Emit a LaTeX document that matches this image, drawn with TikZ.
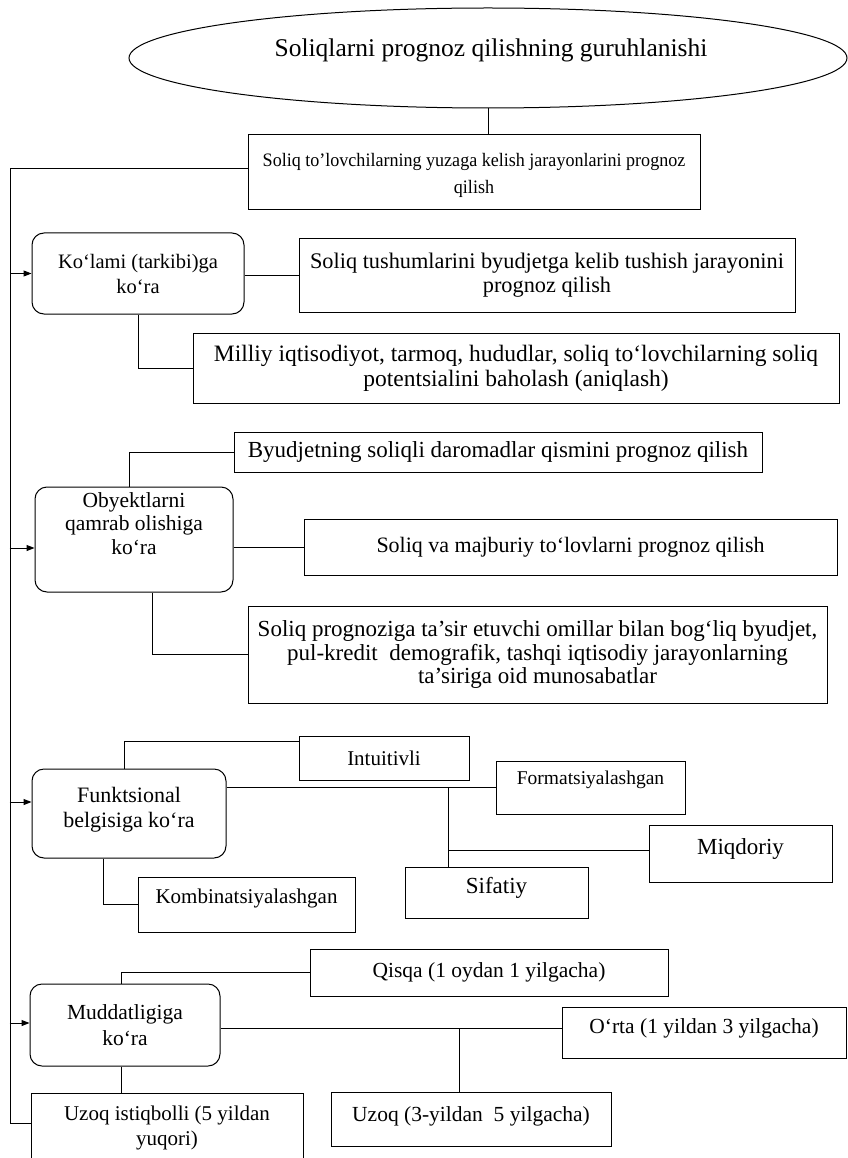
\documentclass[tikz,border=0pt]{standalone}
\usepackage{fontspec}
\setmainfont{Liberation Serif}
\usetikzlibrary{shapes.geometric,arrows.meta,calc}
\newcommand{\fs}[2]{\fontsize{#1}{#2}\selectfont}
\begin{document}
\begin{tikzpicture}[x=1pt,y=-1pt,line width=1pt,
  box/.style={draw,rectangle,align=center,inner sep=2pt,font=\fs{21}{24}},
  cat/.style={box,rounded corners=12pt},
  arr/.style={-{Triangle[length=8pt,width=6pt]}}]
\useasboundingbox[fill=white] (0,0) rectangle (847,1158);

% title
\node[draw,ellipse,minimum width=718pt,minimum height=100pt] (title) at (488,58) {};
\node[font=\fs{25.5}{30}] (titletext) at (491,50) {Soliqlarni prognoz qilishning guruhlanishi};

\node[box,font=\fs{19}{27}\addfontfeature{FakeStretch=0.95},minimum width=452pt,minimum height=75pt,text height=47pt,text depth=4pt] (b1) at (474,172.5)
  {Soliq to’lovchilarning yuzaga kelish jarayonlarini prognoz\\qilish};

% Ko'lami
\node[cat,font=\fs{20.5}{25},minimum width=212pt,minimum height=81pt] (kol) at (138,273.5) {Ko‘lami (tarkibi)ga\\ko‘ra};
\node[box,font=\fs{22.3}{24},minimum width=496pt,minimum height=73pt] (tush) at (547,275.5)
  {Soliq tushumlarini byudjetga kelib tushish jarayonini\\prognoz qilish};
\node[box,font=\fs{23.5}{25},minimum width=646pt,minimum height=70pt] (mil) at (516,368)
  {Milliy iqtisodiyot, tarmoq, hududlar, soliq to‘lovchilarning soliq\\potentsialini baholash (aniqlash)};

% Obyektlarni
\node[box,font=\fs{23}{24},minimum width=528pt,minimum height=40pt] (byud) at (498,452)
  {Byudjetning soliqli daromadlar qismini prognoz qilish};
\node[cat,font=\fs{21.5}{23.5},minimum width=198pt,minimum height=105pt,text depth=32pt] (obj) at (134,539.5) {Obyektlarni\\qamrab olishiga\\ko‘ra};
\node[box,font=\fs{22}{24},minimum width=533pt,minimum height=56pt] (maj) at (570.5,547)
  {Soliq va majburiy to‘lovlarni prognoz qilish};
\node[box,font=\fs{23}{23.5},minimum width=579pt,minimum height=97pt] (omil) at (537.5,654.5)
  {Soliq prognoziga ta’sir etuvchi omillar bilan bog‘liq byudjet,\\pul-kredit\ \ demografik, tashqi iqtisodiy jarayonlarning\\ta’siriga oid munosabatlar};

% Funktsional
\node[cat,font=\fs{22}{25},minimum width=194pt,minimum height=89pt,text depth=12.5pt] (fun) at (129,813.5) {Funktsional\\belgisiga ko‘ra};
\node[box,minimum width=170pt,minimum height=44pt] (int) at (384,758) {Intuitivli};
\node[box,font=\fs{19.5}{22},minimum width=189pt,minimum height=53pt,text depth=20pt] (form) at (590.5,787.5) {Formatsiyalashgan};
\node[box,font=\fs{23}{24},minimum width=183pt,minimum height=57pt,text depth=14pt] (miq) at (740.5,853.5) {Miqdoriy};
\node[box,font=\fs{23}{24},minimum width=183pt,minimum height=51pt,text depth=14pt] (sif) at (496.5,892.5) {Sifatiy};
\node[box,font=\fs{21}{24},minimum width=217pt,minimum height=55pt,text depth=16pt] (komb) at (246.5,904.5) {Kombinatsiyalashgan};

% Muddatligiga
\node[box,font=\fs{21.5}{24},minimum width=358pt,minimum height=47pt] (qis) at (489,972.5) {Qisqa (1 oydan 1 yilgacha)};
\node[cat,font=\fs{21.5}{26},minimum width=190pt,minimum height=82pt] (mud) at (125,1025) {Muddatligiga\\ko‘ra};
\node[box,font=\fs{21.5}{24},minimum width=284pt,minimum height=51pt,text depth=12pt] (orta) at (704,1032.5) {O‘rta (1 yildan 3 yilgacha)};
\node[box,font=\fs{21.5}{24},minimum width=280pt,minimum height=54pt,text depth=9pt] (uzoq) at (471,1119) {Uzoq (3-yildan\ \ 5 yilgacha)};
\node[box,font=\fs{21}{25},minimum width=272pt,minimum height=82pt,text depth=16.5pt] (uzis) at (167,1134) {Uzoq istiqbolli (5 yildan\\yuqori)};

% connectors
\draw (title.south) -- (title.south |- b1.north);
\coordinate (spineTop) at (10,169);
\coordinate (spineBot) at (10,1123);
\draw ([yshift=3.5pt]b1.west) -- (spineTop) -- (spineBot) -- (spineBot -| uzis.west);
\draw[arr] (spineTop |- kol.west) -- (kol.west);
\draw[arr] ([xshift=-25pt,yshift=-8.5pt]obj.west) -- ([yshift=-8.5pt]obj.west);
\draw[arr] ([xshift=-22pt,yshift=11.5pt]fun.west) -- ([yshift=11.5pt]fun.west);
\draw[arr] ([xshift=-20pt,yshift=2pt]mud.west) -- ([yshift=2pt]mud.west);

\draw (kol.east |- tush.west) -- (tush.west);
\draw ([xshift=107pt]kol.south west) |- (mil.west);

\draw ([xshift=95pt]obj.north west) |- (byud.west);
\draw (maj.west -| obj.east) -- (maj.west);
\draw ([xshift=118pt]obj.south west) |- (omil.west);

\draw ([xshift=93pt]fun.north west) |- ([yshift=17pt]int.west);
\draw (fun.east |- form.west) -- (form.west);
\coordinate (fj) at ($(sif.north)+(-48.5,0)$);
\draw (fj) -- (fj |- form.west);
\draw ([yshift=3.5pt]miq.west) -- ++(-201,0);
\draw ([xshift=72pt]fun.south west) |- (komb.west);

\draw ([xshift=92pt]mud.north west) |- (qis.west);
\draw ([yshift=4.5pt]orta.west) -- ([yshift=4.5pt]orta.west -| mud.east);
\coordinate (mj) at ($(uzoq.north)+(-12,0)$);
\draw (mj) -- ++(0,-64);
\draw ([xshift=92pt]mud.south west) -- ++(0,27);
\end{tikzpicture}
\end{document}
